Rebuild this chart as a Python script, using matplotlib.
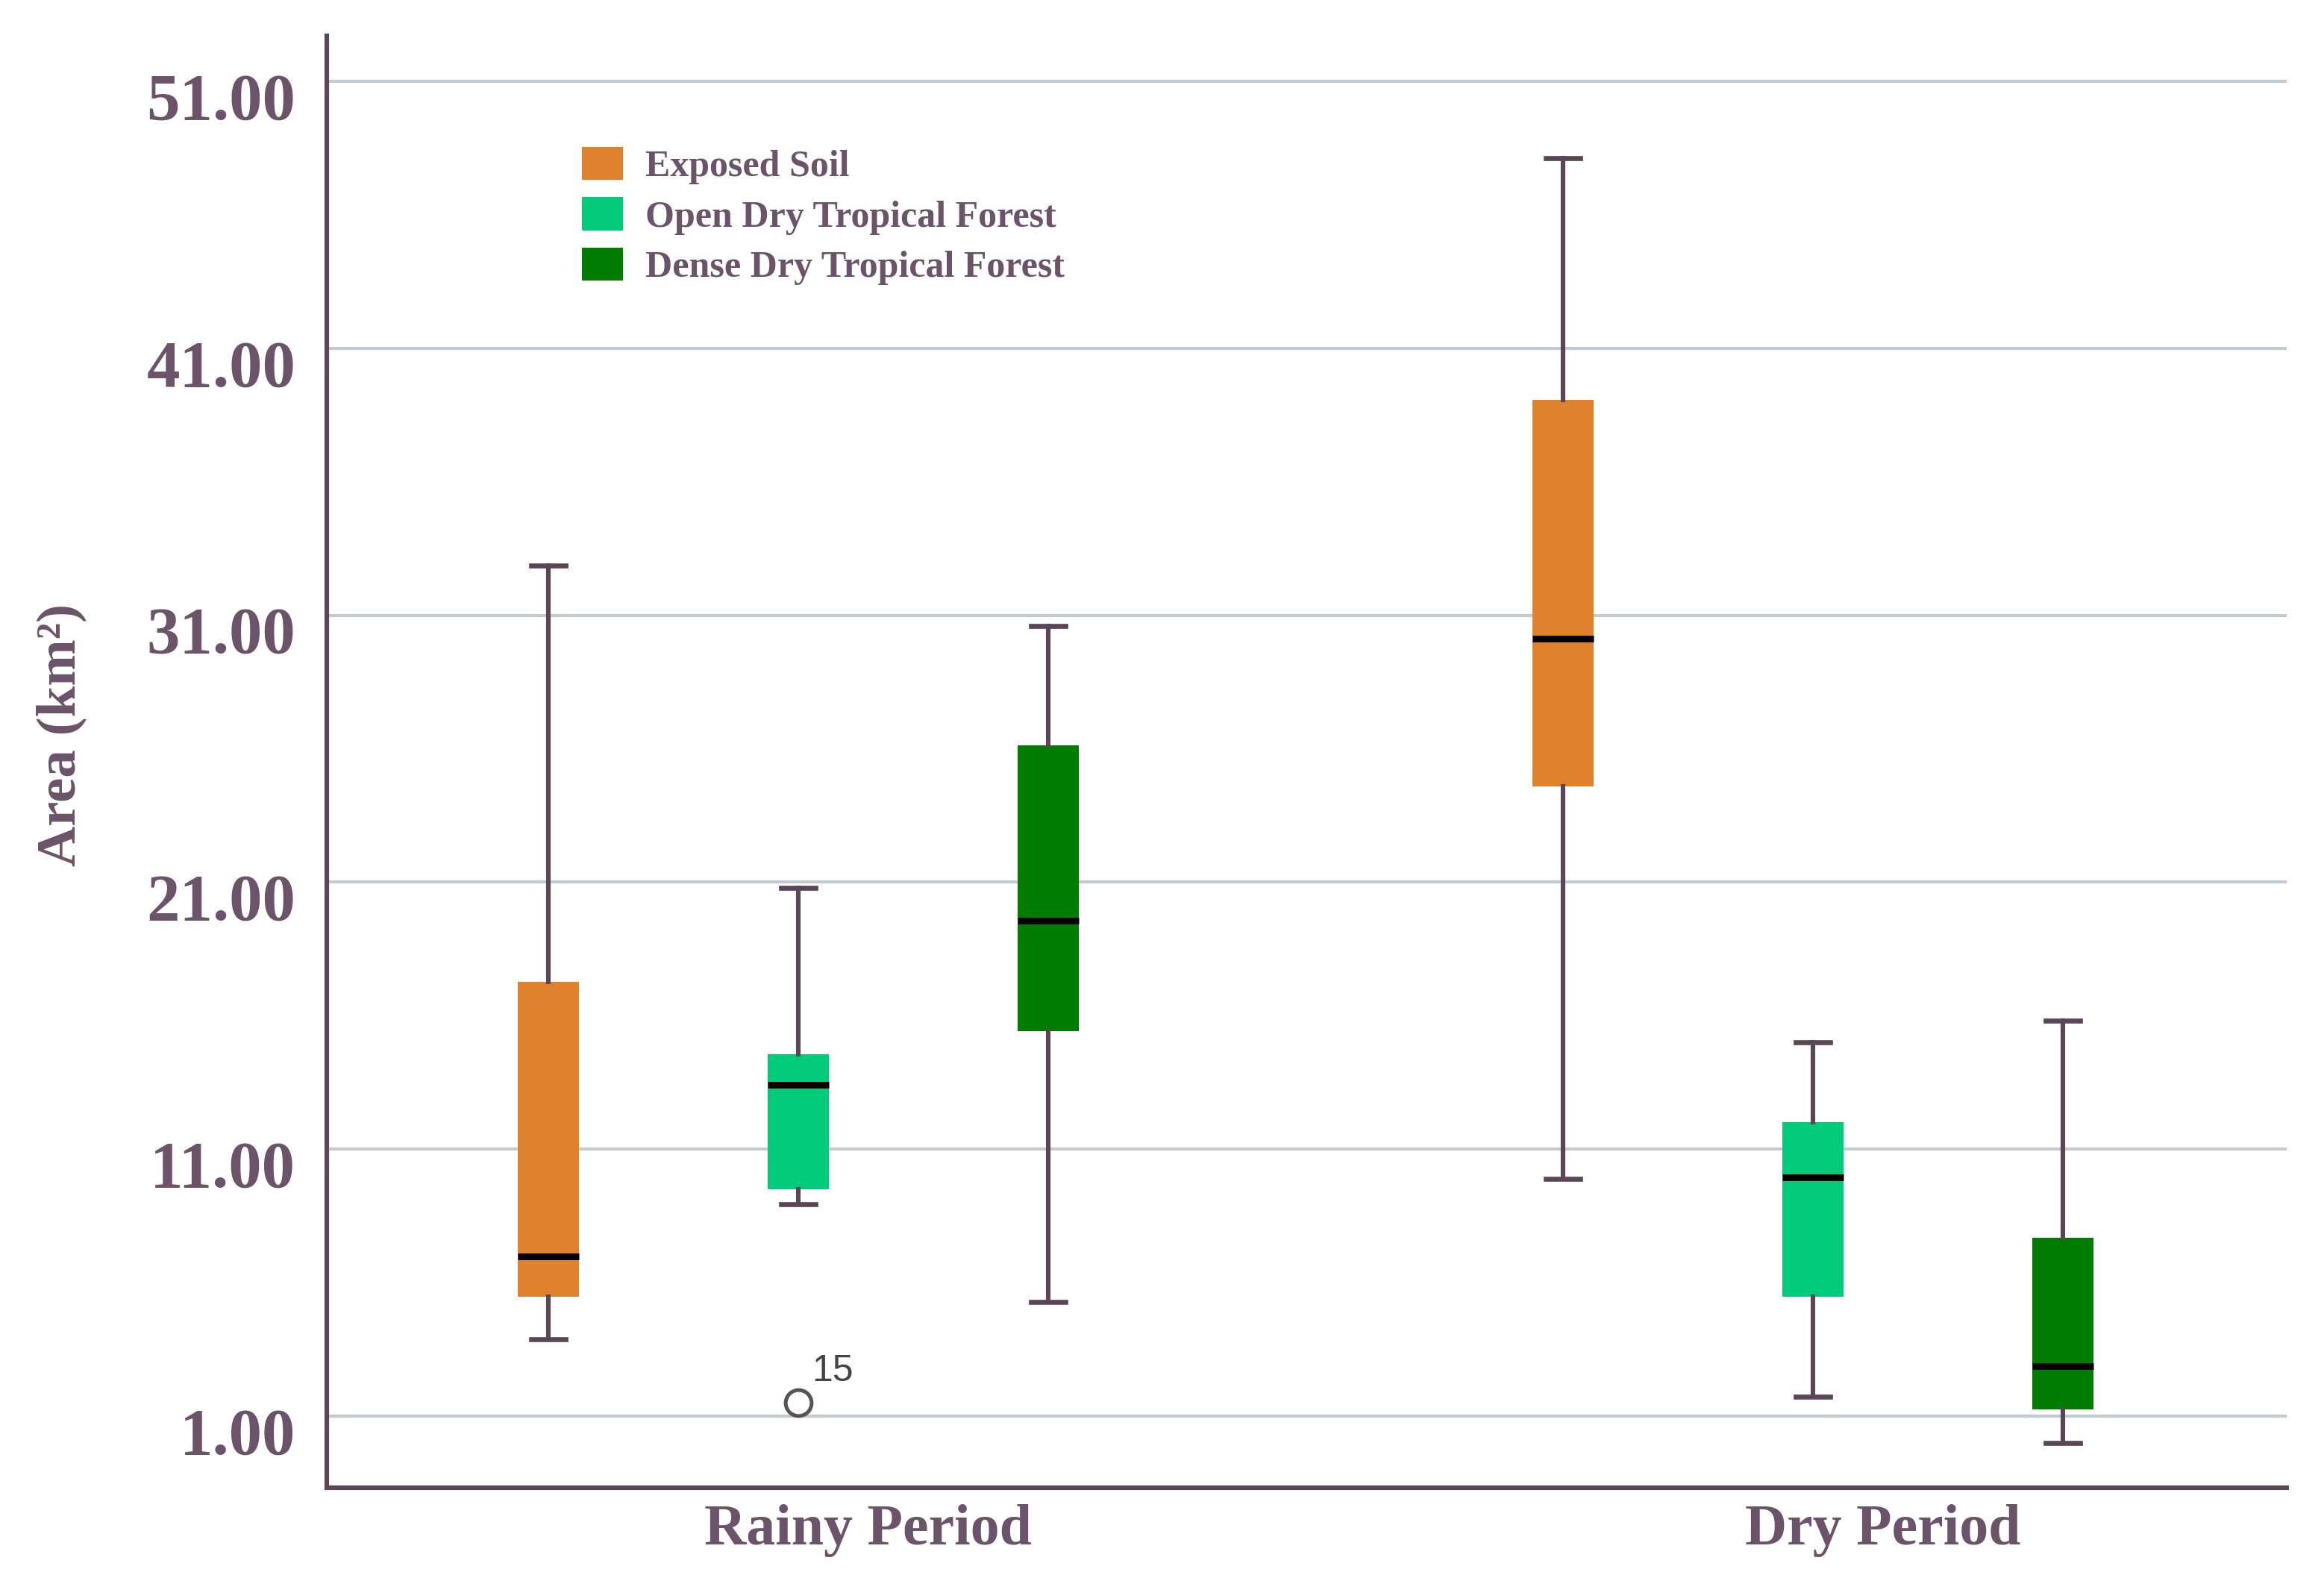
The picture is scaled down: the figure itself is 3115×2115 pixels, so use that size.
import matplotlib.pyplot as plt
import matplotlib.transforms as mtransforms
from matplotlib.patches import Patch

# ---------------------- Данные (km²) ----------------------
periods = ['Rainy Period', 'Dry Period']
classes = ['Exposed Soil', 'Open Dry Tropical Forest', 'Dense Dry Tropical Forest']
colors = ['#df822b', '#00cc7c', '#007c00']

rainy_whislo = [3.87, 8.95, 5.27]
rainy_q1 = [5.47, 9.49, 15.43]
rainy_med = [6.99, 13.40, 19.55]
rainy_q3 = [17.28, 14.56, 26.13]
rainy_whishi = [32.87, 20.80, 30.60]
rainy_fliers = [[], [1.52], []]
rainy_flier_ids = [[], ['15'], []]

dry_whislo = [9.90, 1.72, 0.00]
dry_q1 = [24.58, 5.48, 1.25]
dry_med = [30.12, 9.94, 2.87]
dry_q3 = [39.05, 12.02, 7.69]
dry_whishi = [48.12, 15.00, 15.82]
dry_fliers = [[], [], []]
dry_flier_ids = [[], [], []]

y_ticks = [1, 11, 21, 31, 41, 51]

# ---------------------- Стиль ----------------------
text_color = '#6b5369'
line_color = '#5b4658'
plt.rcParams['font.family'] = ['Liberation Serif', 'DejaVu Serif']
plt.rcParams['font.weight'] = 'bold'

fig = plt.figure(figsize=(15.575, 10.575), dpi=200)
ax = fig.add_axes([0.1406, 0.0572, 0.8433, 0.9201])

group_starts = [0, 4.06]
all_data = [
    (rainy_whislo, rainy_q1, rainy_med, rainy_q3, rainy_whishi, rainy_fliers, rainy_flier_ids),
    (dry_whislo, dry_q1, dry_med, dry_q3, dry_whishi, dry_fliers, dry_flier_ids),
]

stats, positions, box_colors, flier_labels = [], [], [], []
for start, (lo, q1, med, q3, hi, fl, ids) in zip(group_starts, all_data):
    for i in range(len(classes)):
        stats.append(dict(whislo=lo[i], q1=q1[i], med=med[i], q3=q3[i], whishi=hi[i], fliers=fl[i]))
        positions.append(start + i)
        box_colors.append(colors[i])
        for v, lab in zip(fl[i], ids[i]):
            flier_labels.append((start + i, v, lab))

bp = ax.bxp(stats, positions=positions, widths=0.247, capwidths=0.135, patch_artist=True,
            showfliers=True,
            boxprops=dict(linewidth=0),
            whiskerprops=dict(color=line_color, linewidth=2.2),
            capprops=dict(color=line_color, linewidth=2.4),
            medianprops=dict(color='black', linewidth=3.2, solid_capstyle='butt'),
            flierprops=dict(marker='o', markerfacecolor='none', markeredgecolor='#555555',
                            markersize=12.5, markeredgewidth=1.8))
for patch, c in zip(bp['boxes'], box_colors):
    patch.set_facecolor(c)
    patch.set_edgecolor('none')

for x, v, lab in flier_labels:
    ax.annotate(lab, (x, v), xytext=(6.5, 6.5), textcoords='offset points', ha='left', va='bottom',
                fontsize=18, color='#444444', fontweight='normal', family=['Liberation Sans', 'DejaVu Sans'])

# ---------------------- Оси ----------------------
ax.set_xlim(-0.887, 6.955)
ax.set_ylim(-1.68, 52.70)
ax.set_yticks(y_ticks)
ax.set_yticklabels([f'{t:.2f}' for t in y_ticks])
ax.yaxis.grid(True, color='#c3cad0', linewidth=1.5)
ax.set_axisbelow(True)
ax.tick_params(axis='y', length=0, pad=15, labelsize=32, labelcolor=text_color)

ax.set_xticks([s + 1 + 0.28 for s in group_starts])
ax.set_xticklabels(periods)
ax.tick_params(axis='x', length=0, pad=8, labelsize=28, labelcolor=text_color)

shift = mtransforms.ScaledTranslation(0, -7 / 72, fig.dpi_scale_trans)
for lab in ax.get_yticklabels():
    lab.set_transform(lab.get_transform() + shift)

for side in ['top', 'right']:
    ax.spines[side].set_visible(False)
for side in ['left', 'bottom']:
    ax.spines[side].set_color(line_color)
    ax.spines[side].set_linewidth(2.2)

fig.text(0.0263, 0.5343, 'Area (km²)', rotation=90, ha='center', va='center',
         fontsize=27, color=text_color)

handles = [Patch(facecolor=c, edgecolor='none') for c in colors]
leg = ax.legend(handles, classes, loc='upper left', bbox_to_anchor=(0.2504, 0.907),
                bbox_transform=fig.transFigure, frameon=False, fontsize=18,
                handlelength=1.1, handleheight=1.0, handletextpad=0.6,
                labelspacing=0.34, borderpad=0, borderaxespad=0)
for t in leg.get_texts():
    t.set_color(text_color)

fig.savefig('out.png', dpi=200)
